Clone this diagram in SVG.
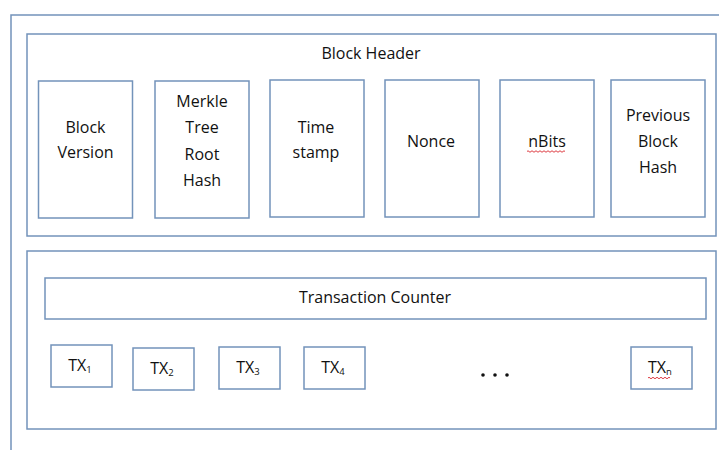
<svg xmlns="http://www.w3.org/2000/svg" width="719" height="450" viewBox="0 0 719 450">
<style>
.b{fill:#fff;stroke:#7393ba;stroke-width:1.5}
.t{font-family:"Open Sans","Noto Sans",sans-serif;font-size:16px;fill:#111;text-anchor:middle;dominant-baseline:central}
.s{font-size:9.5px}
.w{fill:none;stroke:#d9262c;stroke-width:0.9}
</style>
<rect width="719" height="450" fill="#fff"/>
<g id="outer"><path d="M11,450 V15 H719" fill="none" stroke="#7393ba" stroke-width="1.5"/></g>
<g id="block-header">
<rect class="b" x="27" y="34" width="689" height="202"/>
<text class="t" x="371" y="53">Block Header</text>
</g>
<g id="block-version"><rect class="b" x="38.5" y="81" width="94" height="137"/>
<text class="t" x="85.5" y="127">Block</text><text class="t" x="85.5" y="152">Version</text></g>
<g id="merkle"><rect class="b" x="155" y="81" width="94" height="137"/>
<text class="t" x="202" y="101">Merkle</text><text class="t" x="202" y="127">Tree</text><text class="t" x="202" y="154">Root</text><text class="t" x="202" y="180">Hash</text></g>
<g id="timestamp"><rect class="b" x="270" y="80" width="94" height="137"/>
<text class="t" x="316" y="127">Time</text><text class="t" x="316" y="152">stamp</text></g>
<g id="nonce"><rect class="b" x="385" y="80" width="94" height="137"/>
<text class="t" x="431" y="141">Nonce</text></g>
<g id="nbits"><rect class="b" x="500" y="80" width="94" height="137"/>
<text class="t" x="547" y="141">nBits</text>
<path class="w" d="M527,151.5 q1,-1.5 2,0 t2,0 t2,0 t2,0 t2,0 t2,0 t2,0 t2,0 t2,0 t2,0 t2,0 t2,0 t2,0 t2,0 t2,0 t2,0 t2,0 t2,0 t2,0"/></g>
<g id="prev-hash"><rect class="b" x="611" y="80" width="94" height="137"/>
<text class="t" x="658" y="115">Previous</text><text class="t" x="658" y="141">Block</text><text class="t" x="658" y="167">Hash</text></g>
<g id="transactions"><rect class="b" x="27" y="251" width="689" height="178"/></g>
<g id="tx-counter"><rect class="b" x="45" y="278" width="661" height="41"/>
<text class="t" x="375" y="297">Transaction Counter</text></g>
<g id="tx1"><rect class="b" x="51" y="345" width="61" height="42"/>
<text class="t" x="80" y="365">TX<tspan class="s" dy="4">1</tspan></text></g>
<g id="tx2"><rect class="b" x="133" y="348" width="61" height="42"/>
<text class="t" x="162" y="368">TX<tspan class="s" dy="4">2</tspan></text></g>
<g id="tx3"><rect class="b" x="219" y="347" width="61" height="42"/>
<text class="t" x="248" y="367">TX<tspan class="s" dy="4">3</tspan></text></g>
<g id="tx4"><rect class="b" x="304" y="347" width="61" height="42"/>
<text class="t" x="333" y="367">TX<tspan class="s" dy="4">4</tspan></text></g>
<g id="dots" fill="#111"><circle cx="483" cy="375" r="1.8"/><circle cx="495" cy="375" r="1.8"/><circle cx="507" cy="375" r="1.8"/></g>
<g id="txn"><rect class="b" x="631" y="347" width="61" height="42"/>
<text class="t" x="660" y="367">TX<tspan class="s" dy="4">n</tspan></text>
<path class="w" d="M648,378 q1,-1.5 2,0 t2,0 t2,0 t2,0 t2,0 t2,0 t2,0 t2,0 t2,0 t2,0 t2,0"/></g>
</svg>
